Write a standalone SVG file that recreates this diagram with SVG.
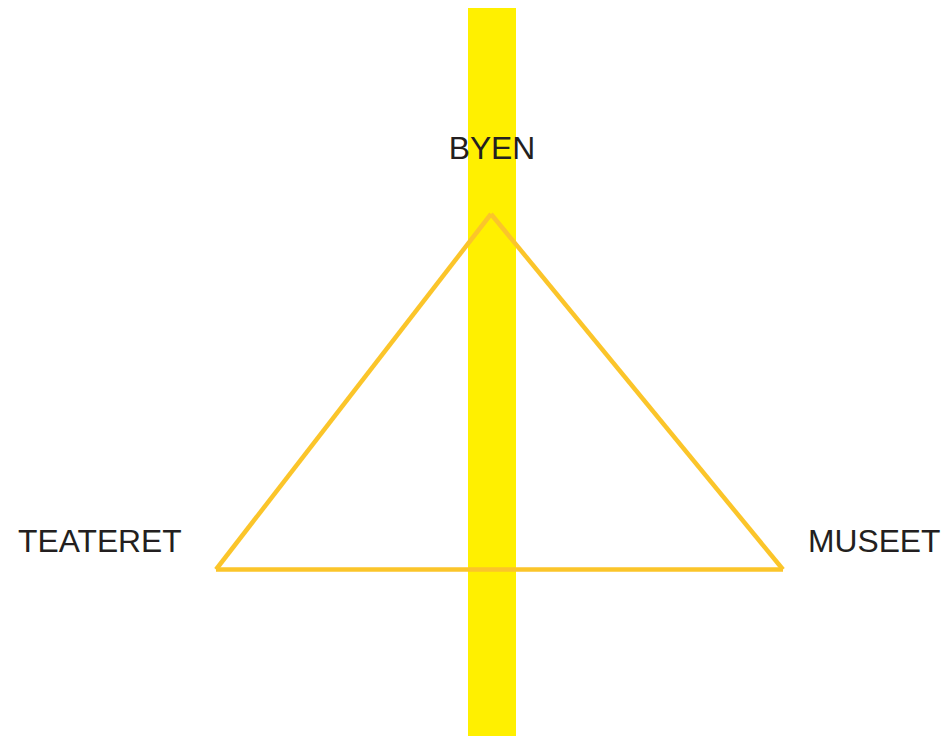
<svg xmlns="http://www.w3.org/2000/svg" width="949" height="736" viewBox="0 0 949 736">
<style>
.lbl{font-family:"Liberation Sans",Arial,sans-serif;font-size:31.8px;fill:#231f20}
.edge{stroke:#fbc52a;stroke-width:4.5;fill:none;stroke-linecap:butt}
</style>
<rect x="0" y="0" width="949" height="736" fill="#ffffff"/>
<rect id="bar" x="468" y="8" width="48" height="728" fill="#fff000"/>
<g id="connectors">
<line class="edge" x1="216" y1="569.5" x2="491" y2="214"/>
<line class="edge" x1="491" y1="214" x2="783" y2="569.5"/>
<line class="edge" x1="216" y1="569.5" x2="783" y2="569.5"/>
</g>
<g id="byen"><text class="lbl" x="492" y="159" text-anchor="middle">BYEN</text></g>
<g id="teateret"><text class="lbl" x="18" y="552">TEATERET</text></g>
<g id="museet"><text class="lbl" x="808" y="552">MUSEET</text></g>
</svg>
